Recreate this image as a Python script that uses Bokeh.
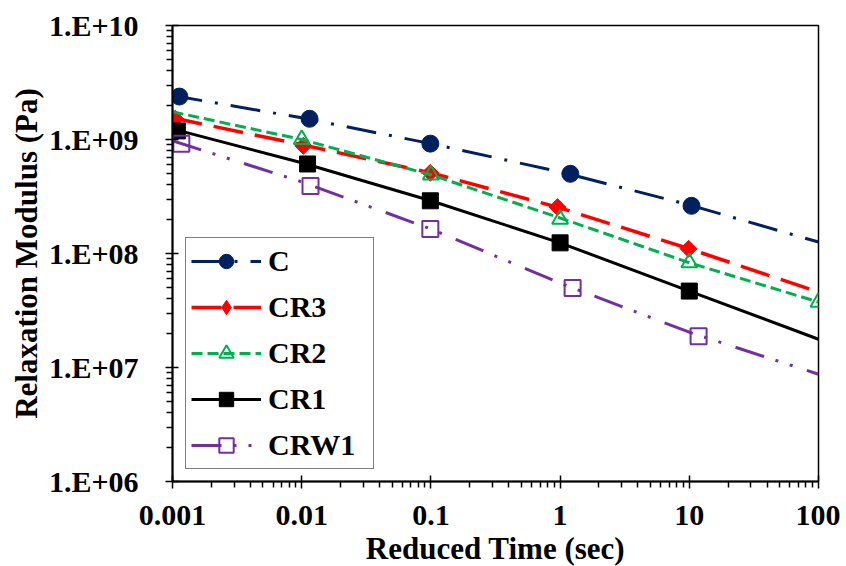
import math
from bokeh.plotting import figure
from bokeh.models import Range1d, FixedTicker, CustomJSTickFormatter, Legend, LegendItem
from bokeh.embed import file_html
from bokeh.resources import INLINE

# ---------------- data ----------------
series_names = ["C", "CR3", "CR2", "CR1", "CRW1"]

# line (fitted curve) values at each decade of reduced time
line_time = [0.001, 0.01, 0.1, 1, 10, 100]
line_C = [2.43e9, 1.55e9, 9.2e8, 5.2e8, 2.67e8, 1.26e8]
line_CR3 = [1.55e9, 9.0e8, 5.1e8, 2.51e8, 1.10e8, 4.59e7]
line_CR2 = [1.75e9, 1.0e9, 4.9e8, 2.05e8, 8.3e7, 3.75e7]
line_CR1 = [1.24e9, 6.25e8, 2.9e8, 1.24e8, 4.68e7, 1.77e7]
line_CRW1 = [9.75e8, 4.25e8, 1.64e8, 5.5e7, 2.04e7, 8.73e6]

# measured points (markers)
pt_time_C = [0.00113, 0.0115, 0.099, 1.20, 10.4]
pt_G_C = [2.38e9, 1.52e9, 9.2e8, 5.0e8, 2.62e8]
pt_time_CR3 = [0.00105, 0.0103, 0.099, 0.955, 9.87]
pt_G_CR3 = [1.52e9, 8.8e8, 5.1e8, 2.55e8, 1.10e8]
pt_time_CR2 = [0.01, 0.1, 1.0, 10.0, 100.0]
pt_G_CR2 = [1.0e9, 4.9e8, 2.0e8, 8.3e7, 3.75e7]
pt_time_CR1 = [0.00109, 0.0111, 0.099, 1.0, 10.0]
pt_G_CR1 = [1.19e9, 6.1e8, 2.9e8, 1.24e8, 4.68e7]
pt_time_CRW1 = [0.00117, 0.0117, 0.099, 1.25, 11.8]
pt_G_CRW1 = [9.2e8, 3.9e8, 1.64e8, 4.98e7, 1.88e7]

x_ticks = [0.001, 0.01, 0.1, 1, 10, 100]
x_tick_labels = ["0.001", "0.01", "0.1", "1", "10", "100"]
y_ticks = [1e6, 1e7, 1e8, 1e9, 1e10]
y_tick_labels = ["1.E+06", "1.E+07", "1.E+08", "1.E+09", "1.E+10"]

x_title = "Reduced Time (sec)"
y_title = "Relaxation Modulus (Pa)"

# ---------------- styles ----------------
FONT = "Liberation Serif"
styles = {
    "C": dict(color="#002060", dash="30 13 3 13", width=3, marker="circle", size=17,
              fill="#002060", angle=0.0, mlw=1, legend_marker="circle"),
    "CR3": dict(color="#FF0000", dash="30 12", width=3.5, marker="square", size=12,
                fill="#FF0000", angle=math.pi / 4, mlw=1, legend_marker="diamond"),
    "CR2": dict(color="#00B050", dash="11 5", width=3, marker="triangle", size=16,
                fill=None, angle=0.0, mlw=2, legend_marker="triangle"),
    "CR1": dict(color="#000000", dash="solid", width=3, marker="square", size=16,
                fill="#000000", angle=0.0, mlw=1, legend_marker="square"),
    "CRW1": dict(color="#7030A0", dash="30 12 3 12 3 15", width=3, marker="square", size=16,
                 fill=None, angle=0.0, mlw=2, legend_marker="square"),
}

lines = {"C": line_C, "CR3": line_CR3, "CR2": line_CR2, "CR1": line_CR1, "CRW1": line_CRW1}
points = {"C": (pt_time_C, pt_G_C), "CR3": (pt_time_CR3, pt_G_CR3),
          "CR2": (pt_time_CR2, pt_G_CR2), "CR1": (pt_time_CR1, pt_G_CR1),
          "CRW1": (pt_time_CRW1, pt_G_CRW1)}

p = figure(width=840, height=562, x_axis_type="log", y_axis_type="log",
           x_range=Range1d(x_ticks[0], x_ticks[-1]), y_range=Range1d(y_ticks[0], y_ticks[-1]),
           output_backend="svg", toolbar_location=None)
p.frame_width = 646
p.frame_height = 456
p.min_border_left = 172
p.min_border_right = 22
p.min_border_top = 25
p.min_border_bottom = 81
p.background_fill_color = "white"
p.border_fill_color = "white"
p.outline_line_color = "black"
p.outline_line_width = 1.5
p.xgrid.visible = False
p.ygrid.visible = False

items = []
for name in series_names:
    s = styles[name]
    lr = p.line(line_time, lines[name], line_color=s["color"], line_width=s["width"],
                line_dash=s["dash"])
    px, py = points[name]
    if s["legend_marker"] != s["marker"] or s["angle"] != 0.0:
        # legend glyphs are drawn unrotated: a smaller matching-shape marker,
        # hidden inside the rotated one, supplies the key's shape
        kr = p.scatter(px, py, marker=s["legend_marker"], size=s["size"] - 2,
                       line_color=s["color"], line_width=s["mlw"], fill_color=s["fill"])
        p.scatter(px, py, marker=s["marker"], size=s["size"], angle=s["angle"],
                  line_color=s["color"], line_width=s["mlw"], fill_color=s["fill"])
        items.append(LegendItem(label=name, renderers=[lr, kr]))
    else:
        sr = p.scatter(px, py, marker=s["marker"], size=s["size"], angle=s["angle"],
                       line_color=s["color"], line_width=s["mlw"],
                       fill_color=s["fill"])
        items.append(LegendItem(label=name, renderers=[lr, sr]))

legend = Legend(items=items, location=(13, 12))
legend.label_text_font = FONT
legend.label_text_font_style = "bold"
legend.label_text_font_size = "30px"
legend.label_text_color = "black"
legend.glyph_width = 70
legend.glyph_height = 36
legend.label_height = 36
legend.label_width = 100
legend.spacing = 10
legend.padding = 5
legend.margin = 0
legend.label_standoff = 7
legend.border_line_color = "black"
legend.border_line_width = 1.5
legend.background_fill_color = "white"
legend.background_fill_alpha = 1.0
p.add_layout(legend)

# axes
xminor = [m * 10.0 ** e for e in range(-3, 2) for m in range(2, 10)]
yminor = [m * 10.0 ** e for e in range(6, 10) for m in range(2, 10)]
p.xaxis.ticker = FixedTicker(ticks=x_ticks, minor_ticks=xminor)
p.yaxis.ticker = FixedTicker(ticks=y_ticks, minor_ticks=yminor)
fmt_code = """
const lt = Math.log10(tick);
for (let i = 0; i < tvals.length; i++) {
  if (Math.abs(Math.log10(tvals[i]) - lt) < 1e-6) return tlabels[i];
}
return "";
"""
p.xaxis.formatter = CustomJSTickFormatter(args=dict(tvals=x_ticks, tlabels=x_tick_labels), code=fmt_code)
p.yaxis.formatter = CustomJSTickFormatter(args=dict(tvals=y_ticks, tlabels=y_tick_labels), code=fmt_code)

for ax in (p.xaxis[0], p.yaxis[0]):
    ax.axis_line_color = "black"
    ax.axis_line_width = 2
    ax.major_tick_line_color = "black"
    ax.major_tick_line_width = 1.5
    ax.minor_tick_line_color = "black"
    ax.minor_tick_line_width = 1.5
    ax.major_tick_in = 6
    ax.major_tick_out = 7
    ax.minor_tick_in = 0
    ax.minor_tick_out = 6
    ax.major_label_text_font = FONT
    ax.major_label_text_font_style = "bold"
    ax.major_label_text_font_size = "30px"
    ax.major_label_text_color = "black"
    ax.axis_label_text_font = FONT
    ax.axis_label_text_font_style = "bold"
    ax.axis_label_text_font_size = "31px"
    ax.axis_label_text_color = "black"

p.xaxis.axis_label = x_title
p.yaxis.axis_label = y_title
p.xaxis.major_label_standoff = 17
p.yaxis.major_label_standoff = 27
p.xaxis.axis_label_standoff = 3
p.yaxis.axis_label_standoff = 2

open("out.html", "w").write(file_html(p, INLINE))
